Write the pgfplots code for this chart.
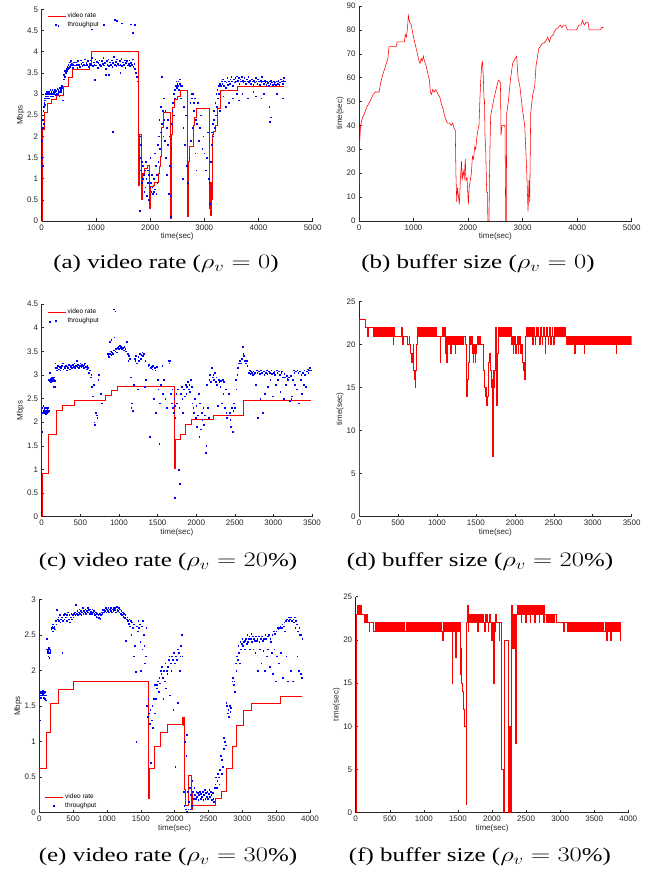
\documentclass[border=0pt]{standalone}
\usepackage{pgfplots}
\pgfplotsset{compat=1.18}
\usepackage{fontspec}
\setmainfont{Liberation Serif}
\newfontfamily\hel{Liberation Sans}
\definecolor{axgray}{RGB}{38,38,38}
\pgfplotsset{
  every axis/.append style={
    scale only axis,
    anchor=south west,
    axis x line*=bottom, axis y line*=left,
    tick align=inside,
    major tick length=2.5pt,
    every tick/.style={axgray, line width=0.5pt},
    axis line style={axgray, line width=0.5pt},
    tick label style={font=\hel\fontsize{8}{9}\selectfont, text=axgray},
    label style={font=\hel\fontsize{8}{9}\selectfont, text=axgray},
    /pgf/number format/assume math mode=true,
    /pgf/number format/1000 sep={},
    xlabel={time(sec)},
    xlabel style={yshift=4pt},
    ylabel style={yshift=-4pt},
    legend cell align=left,
  },
  rate/.style={red, line width=1pt, const plot, no marks,
    legend image code/.code={\draw[red, line width=0.8pt] (0pt,0pt) -- (18pt,0pt);}},
  buf/.style={red, line width=0.55pt, no marks},
  thr/.style={only marks, mark=square*, mark size=0.36pt, blue, mark options={draw=none, fill=blue},
    legend image code/.code={\fill[blue] (7.6pt,-0.4pt) rectangle (8.4pt,0.4pt);}},
  leg/.style={legend style={draw=none, fill=none, font=\hel\fontsize{6.5}{7}\selectfont, inner sep=0pt, row sep=-0.5pt,
    nodes={inner sep=1.5pt}}},
}
\begin{document}
\begin{tikzpicture}
\path[use as bounding box] (0,0) rectangle (654pt,871pt);
% ---------------- (a)
\begin{axis}[at={(41.7pt,650pt)}, width=271pt, height=211.7pt,
  xmin=0, xmax=5000, ymin=0, ymax=5,
  xtick={0,1000,...,5000}, ytick={0,0.5,...,5},
  ylabel={Mbps}, leg,
  legend style={at={(0.02,0.99)}, anchor=north west}]
\addplot[rate] coordinates {(0,0)(10,1.6)(20,2.15)(50,2.57)(100,2.77)(190,2.87)(270,2.97)(400,3.18)(500,3.38)(560,3.58)(880,3.68)(910,4.0)(1795,0.85)(1800,2.05)(1845,0.5)(1852,1.13)(1893,1.23)(1943,1.32)(1998,0.3)(2011,0.81)(2059,0.85)(2076,0.91)(2164,1.13)(2180,1.28)(2200,1.52)(2215,2.2)(2244,2.57)(2380,0.07)(2390,0.7)(2400,2.05)(2417,2.68)(2459,2.88)(2502,2.95)(2552,3.08)(2694,0.1)(2705,1.4)(2736,1.75)(2800,2.25)(2822,2.45)(2850,2.66)(3105,0.3)(3112,0.9)(3120,0.12)(3128,0.9)(3136,0.5)(3143,2.05)(3170,2.12)(3200,2.25)(3240,2.65)(3303,3.08)(3609,3.18)(4476,3.18)};
\addlegendentry{video rate}
\addplot[thr] coordinates {
(5,1.5)(10,1.9)(15,1.3)(20,2.2)(25,2.4)(30,2.6)(35,2.3)(40,2.7)(45,2.8)(50,2.75)(55,2.9)(60,2.85)(70,2.95)(80,3.0)(90,2.9)(95,3.05)
(105,2.95)(115,3.0)(125,3.05)(135,2.9)(145,3.0)(155,3.1)(165,2.95)(175,3.05)(185,3.0)(195,3.1)(205,2.95)(215,3.05)(225,3.0)(235,3.1)(245,3.05)(255,2.98)(265,3.08)(275,3.02)(285,3.12)(295,3.0)(305,3.1)(315,3.05)(325,2.95)(335,3.15)(345,3.1)(355,3.05)(365,3.15)(375,3.2)(385,2.85)(395,3.0)
(400,3.35)(410,3.45)(420,3.4)(430,3.55)(440,3.5)(450,3.6)(460,3.55)(470,3.65)(480,3.6)(490,3.7)(500,3.62)(510,3.75)(520,3.65)(530,3.7)(540,3.78)(550,3.68)(560,3.72)(570,3.62)(580,3.7)(590,3.75)
(610,3.68)(625,3.75)(640,3.7)(655,3.62)(670,3.78)(685,3.7)(700,3.65)(715,3.8)(730,3.72)(745,3.66)(760,3.75)(775,3.7)(790,3.82)(805,3.68)(820,3.74)(835,3.7)(850,3.78)(865,3.64)(880,3.72)(895,3.8)(910,3.7)(925,3.85)(940,3.66)(955,3.75)(970,3.7)(985,3.82)(1000,3.68)(1015,3.76)(1030,3.62)(1045,3.74)(1060,3.8)(1075,3.7)(1090,3.66)(1105,3.78)(1120,3.72)(1135,3.85)(1150,3.68)(1165,3.74)(1180,3.6)(1195,3.78)(1210,3.7)(1225,3.82)(1240,3.66)(1255,3.75)(1270,3.7)(1285,3.8)(1300,3.64)(1315,3.74)(1330,3.88)(1345,3.7)(1360,3.76)(1375,3.66)(1390,3.82)(1405,3.72)(1420,3.68)(1435,3.78)(1450,3.7)(1465,3.84)(1480,3.66)(1495,3.75)(1510,3.7)(1525,3.8)(1540,3.62)(1555,3.74)(1570,3.78)(1585,3.68)(1600,3.72)(1615,3.8)(1630,3.66)(1645,3.74)(1660,3.7)(1675,3.82)(1690,3.64)(1705,3.72)(1720,3.6)(1735,3.5)(1750,3.4)(1760,3.3)
(307,4.61)(922,4.53)(1138,4.63)(1353,4.76)(1384,4.73)(1476,4.67)(1642,4.65)(1673,4.45)(1722,4.63)(972,3.33)(1230,3.45)(1310,2.11)(1180,3.45)(1450,3.5)(1802,0.24)
(1810,2.0)(1815,1.5)(1825,1.8)(1830,1.2)(1840,0.9)(1850,1.4)(1860,1.0)(1870,1.3)(1880,1.1)(1890,0.7)(1900,1.2)(1910,0.8)(1920,1.4)(1930,1.0)(1940,0.6)(1950,0.9)(1960,1.2)(1970,0.5)(1980,1.1)(1990,0.8)(2000,1.5)(2010,0.9)(2020,0.7)(2030,1.1)(2040,0.8)(2050,0.65)(2060,1.0)(2070,0.7)(2080,1.6)(2090,0.75)(2100,1.3)(2110,0.65)(2120,1.1)(2130,0.9)(2140,1.8)(2150,1.4)(2160,2.0)(2170,2.4)(2180,1.7)(2190,2.1)(2200,2.7)(2210,2.3)(2220,3.4)(2230,2.6)(2240,2.0)(2250,2.9)(2260,2.4)(2270,1.9)(2280,2.6)(2290,1.5)(2300,2.2)(2310,1.1)(2320,2.4)(2330,1.8)(2340,0.65)(2350,2.0)(2360,1.3)(2370,0.6)(2380,0.1)(2390,1.7)(2400,2.3)(2410,2.6)(2420,2.8)(2430,3.0)(2440,2.5)(2450,3.1)(2460,2.9)(2470,3.2)(2480,3.3)(2490,3.15)(2500,3.25)(2510,3.2)(2520,3.3)(2530,3.1)(2540,3.25)(2550,3.35)(2560,3.2)(2570,2.9)(2580,3.2)(2600,1.0)(2610,2.2)(2620,2.7)(2640,1.8)(2660,2.5)(2680,1.3)(2700,0.9)(2720,1.5)(2740,2.8)(2750,1.9)(2760,3.0)(2770,2.9)(2780,2.2)(2790,3.0)(2800,2.8)(2810,2.6)(2820,2.9)(2830,1.6)(2840,2.4)(2850,1.2)(2860,2.3)(2880,2.8)(2900,1.9)(2920,2.2)(2940,2.5)(2960,1.7)(2980,2.0)(3000,1.6)(3020,1.2)(3040,1.5)(3060,2.1)(3080,1.0)(3090,0.9)(3100,0.4)(3110,0.8)(3120,1.4)(3130,1.8)(3140,2.1)(3150,2.3)(3160,2.0)(3170,2.4)(3180,2.6)(3190,2.2)(3200,2.8)(3210,2.5)(3220,3.0)(3230,2.7)(3240,3.1)(3250,2.9)(3260,3.2)(3270,3.0)(3280,3.25)(3290,2.6)
(3300,3.2)(3315,3.3)(3330,3.25)(3345,3.35)(3360,3.2)(3375,3.3)(3390,3.15)(3405,3.28)(3420,3.38)(3435,3.22)(3450,3.3)(3465,3.25)(3480,3.35)(3495,3.4)(3510,3.3)(3525,3.2)(3540,3.35)(3555,3.28)(3570,3.38)(3585,3.3)(3600,3.42)(3615,3.32)(3630,3.38)(3645,3.25)(3660,3.35)(3675,3.3)(3690,3.4)(3705,3.32)(3720,3.28)(3735,3.38)(3750,3.3)(3765,3.25)(3780,3.35)(3795,3.3)(3810,3.4)(3825,3.28)(3840,3.32)(3855,3.25)(3870,3.35)(3885,3.3)(3900,3.22)(3915,3.32)(3930,3.28)(3945,3.38)(3960,3.3)(3975,3.25)(3990,3.35)(4005,3.3)(4020,3.22)(4035,3.32)(4050,3.28)(4065,3.4)(4080,3.3)(4095,3.25)(4110,3.32)(4125,3.28)(4140,3.22)(4155,3.3)(4170,3.26)(4185,3.2)(4200,3.3)(4215,3.25)(4230,3.32)(4245,3.28)(4260,3.22)(4275,3.3)(4290,3.25)(4305,3.28)(4320,3.22)(4335,3.3)(4350,3.25)(4365,3.32)(4380,3.22)(4395,3.28)(4410,3.35)(4425,3.3)(4440,3.25)(4455,3.32)(4470,3.38)(4480,3.3)
(3400,2.7)(3520,2.9)(3700,3.0)(3800,2.9)(3900,3.05)(3950,2.95)(4050,2.9)(4200,2.7)(4220,2.45)(4210,2.35)(4450,2.9)(4330,3.0)(3350,2.95)(3450,2.8)(3600,3.0)(3630,2.85)(4100,3.0)};
\addlegendentry{throughput}
\end{axis}
% ---------------- (b)
\begin{axis}[at={(359pt,650pt)}, width=272.7pt, height=215pt,
  xmin=0, xmax=5000, ymin=0, ymax=90,
  xtick={0,1000,...,5000}, ytick={0,10,...,90},
  ylabel={time(sec)}]
\addplot[buf] coordinates {(0,0)(5,20)(12,33)(30,40)(60,43)(100,45)(150,48)(200,50)(260,53)(300,54)(370,54)(390,57)(420,60)(460,63)(500,66)(530,68)(550,73)(680,73)(700,75)(830,75)(850,78)(870,77)(890,81)(905,86)(930,83)(960,82)(990,78)(1020,75)(1060,71)(1100,67)(1120,66)(1140,68)(1160,67)(1180,69)(1200,67)(1230,65)(1260,62)(1290,59)(1310,54)(1330,53)(1350,55)(1380,54)(1410,55)(1430,54)(1450,53)(1480,52)(1510,49)(1540,47)(1570,44)(1600,42)(1620,41)(1660,41)(1690,40)(1720,41)(1740,39)(1765,38)(1778,19)(1792,8)(1805,14)(1820,11)(1840,7)(1860,18)(1880,25)(1890,17)(1910,21)(1930,18)(1950,26)(1960,17)(1980,18)(1990,14)(2005,7)(2020,14)(2040,17)(2060,20)(2080,27)(2100,26)(2120,31)(2140,30)(2160,35)(2180,38)(2200,40)(2215,50)(2230,58)(2250,65)(2262,67)(2280,60)(2292,51)(2300,51)(2310,36)(2323,30)(2341,12)(2358,12)(2362,0)(2384,0)(2392,18)(2405,35)(2414,44)(2463,50)(2512,55)(2555,59)(2592,58)(2598,50)(2604,36)(2622,40)(2677,40)(2690,0)(2700,0)(2708,45)(2738,50)(2781,60)(2818,66)(2861,68)(2891,69)(2916,60)(2952,56)(2995,47)(3038,40)(3062,28)(3081,17)(3099,4)(3117,17)(3130,8)(3148,45)(3185,53)(3220,56)(3246,65)(3294,72)(3350,74)(3420,75)(3460,77)(3490,75)(3520,77)(3560,78)(3600,80)(3650,81)(3690,82)(3720,81)(3750,82)(3790,82)(3820,80)(3900,80)(3990,80)(4030,82)(4070,82)(4100,84)(4130,82)(4160,83)(4200,83)(4220,80)(4300,80)(4420,80)(4450,81)(4480,81)};
\end{axis}
% ---------------- (c)
\begin{axis}[at={(41.7pt,354.3pt)}, width=270.3pt, height=212.7pt,
  xmin=0, xmax=3500, ymin=0, ymax=4.5,
  xtick={0,500,...,3500}, ytick={0,0.5,...,4.5},
  ylabel={Mbps}, leg,
  legend style={at={(0.02,0.985)}, anchor=north west}]
\addplot[rate] coordinates {(0,0)(5,0.5)(10,0.92)(90,1.74)(190,2.25)(270,2.35)(430,2.46)(830,2.56)(900,2.66)(980,2.76)(1720,1.02)(1730,1.64)(1800,1.74)(1860,1.95)(1940,2.05)(2220,2.15)(2610,2.46)(3490,2.46)};
\addlegendentry{video rate}
\addplot[thr] coordinates {
(5,1.8)(8,2.3)(12,2.2)(18,2.35)(22,2.25)(28,2.2)(32,2.28)(38,2.22)(42,2.3)(48,2.18)(52,2.25)(58,2.22)(62,2.3)(68,2.2)(72,2.26)(78,2.22)(82,2.3)(88,2.24)
(95,2.9)(100,3.05)(105,2.88)(112,2.92)(118,2.85)(125,2.9)(132,2.95)(138,2.88)(145,2.92)(150,2.75)(155,2.9)(160,2.95)(165,2.88)(170,2.75)(175,3.25)(180,3.15)(100,4.12)
(190,3.1)(200,3.15)(210,3.2)(220,3.12)(230,3.18)(240,3.1)(250,3.15)(260,3.2)(270,3.25)(280,3.12)(290,3.18)(300,3.15)(310,3.2)(320,3.1)(330,3.18)(340,3.15)(350,3.22)(360,3.12)(370,3.18)(380,3.2)(390,3.15)(400,3.22)(410,3.18)(420,3.25)(430,3.15)(440,3.2)(450,3.3)(460,3.18)(470,3.22)(480,3.15)(490,3.2)(500,3.25)(510,3.18)(520,3.22)(530,3.2)(540,3.15)(550,3.22)(560,3.25)(570,3.18)(580,3.12)(590,3.2)(600,3.15)(610,3.05)(620,3.1)(630,2.95)(640,3.0)(650,2.75)(660,2.55)(670,2.8)(680,2.0)(690,1.95)(700,2.2)(710,2.15)(720,2.1)(730,2.9)(740,3.0)(760,2.6)(780,2.4)
(850,3.45)(860,3.4)(870,3.38)(880,3.45)(890,3.5)(900,3.42)(910,3.48)(920,3.45)(930,3.52)(940,3.8)(950,3.5)(960,3.55)(970,3.48)(980,3.58)(990,3.6)(1000,3.55)(1010,3.62)(1020,3.58)(1030,3.6)(1040,3.55)(1050,3.58)(1060,3.52)(1070,3.6)(1080,3.55)(1090,3.5)(1100,3.7)(930,4.39)(950,4.35)(880,3.7)(900,3.75)
(1110,3.45)(1120,3.3)(1130,3.4)(1140,3.35)(1150,2.95)(1160,2.3)(1170,2.4)(1180,2.25)(1190,2.8)(1200,3.35)(1210,3.3)(1220,3.4)(1230,3.25)(1240,2.7)(1250,3.38)(1260,3.3)(1270,3.45)(1280,3.35)(1290,3.42)(1300,3.48)(1310,3.4)(1320,3.45)(1330,2.75)(1340,3.3)(1350,2.9)
(1380,3.2)(1390,3.22)(1400,1.7)(1410,3.15)(1420,3.18)(1430,3.12)(1440,3.2)(1450,2.5)(1460,3.15)(1470,3.1)(1480,2.2)(1490,3.18)(1500,2.9)(1510,2.7)(1520,1.55)(1530,2.4)(1540,2.8)(1560,3.2)(1570,2.6)(1580,2.9)(1600,2.5)(1620,2.3)(1640,3.3)(1650,3.25)(1660,3.3)(1670,2.6)(1680,2.4)(1690,2.7)(1700,2.3)(1710,2.2)(1715,2.5)(1720,0.4)(1725,2.35)(1730,2.1)(1740,2.6)(1750,2.4)(1760,2.7)(1770,1.0)(1780,2.3)(1790,0.7)
(1800,2.6)(1810,2.75)(1820,2.5)(1830,2.2)(1840,2.7)(1850,2.55)(1860,2.8)(1870,2.6)(1880,2.75)(1890,2.85)(1900,2.7)(1910,2.8)(1920,2.65)(1930,2.9)(1940,2.75)(1950,2.4)(1960,2.3)(1970,2.2)(1980,2.5)(1990,2.1)(2000,2.35)(2010,1.9)(2020,2.15)(2030,2.6)(2040,1.7)(2050,2.4)(2060,1.85)(2070,2.2)(2080,2.05)(2090,2.3)(2100,1.95)(2110,2.15)(2120,1.35)(2130,1.5)(2140,2.8)(2150,2.3)(2160,2.1)
(2170,2.9)(2180,3.0)(2190,2.85)(2200,3.15)(2210,2.95)(2220,3.0)(2230,2.9)(2240,3.05)(2250,2.85)(2260,2.95)(2270,2.8)(2280,2.35)(2290,2.9)(2300,2.85)(2310,2.75)(2320,2.88)(2330,2.4)(2340,2.9)(2350,2.6)(2360,2.85)(2370,2.3)(2380,2.7)(2390,2.2)(2400,2.1)(2410,2.15)(2420,2.6)(2430,2.2)(2440,2.05)(2450,1.9)(2460,2.3)(2470,1.8)(2480,2.25)(2490,2.4)(2500,2.3)(2510,2.9)(2520,2.7)(2530,3.0)(2540,3.15)(2550,3.25)(2560,3.3)(2570,3.3)(2580,3.25)(2590,3.35)(2600,3.6)(2610,3.45)(2620,3.4)(2630,3.3)(2640,3.25)(2650,3.3)(2660,3.2)
(2680,3.05)(2690,3.1)(2700,3.02)(2710,3.08)(2720,3.05)(2730,3.0)(2740,3.08)(2750,3.02)(2760,3.05)(2770,2.8)(2780,3.1)(2790,3.05)(2800,2.1)(2810,3.08)(2820,3.02)(2830,2.5)(2840,3.1)(2850,3.05)(2860,2.2)(2870,3.08)(2880,3.0)(2890,2.6)(2900,3.05)(2910,3.1)(2920,3.02)(2930,2.75)(2940,3.08)(2950,3.05)(2960,2.9)(2970,3.1)(2980,3.02)(2990,2.55)(3000,3.05)(3010,3.08)(3020,3.0)(3030,2.8)(3040,3.1)(3050,3.05)(3060,2.9)(3070,3.08)(3080,3.0)(3090,2.65)(3100,3.05)(3110,3.08)(3120,2.95)(3130,2.5)(3140,3.02)(3150,2.95)(3160,2.8)(3170,2.98)(3180,2.92)(3190,2.9)(3200,2.95)(3210,2.45)(3220,2.98)(3230,2.5)(3240,2.55)(3250,2.9)(3260,3.1)(3270,3.05)(3280,2.8)(3290,3.08)(3300,2.7)(3310,3.1)(3320,3.05)(3330,2.4)(3340,3.08)(3350,2.9)(3360,3.0)(3370,2.6)(3380,3.05)(3390,2.8)(3400,3.1)(3410,3.0)(3420,2.75)(3430,3.08)(3440,3.12)(3450,3.05)(3460,3.1)(3470,3.15)(3480,3.1)};
\addlegendentry{throughput}
\end{axis}
% ---------------- (d)
\begin{axis}[at={(359pt,354.3pt)}, width=272.7pt, height=215pt,
  xmin=0, xmax=3500, ymin=0, ymax=25,
  xtick={0,500,...,3500}, ytick={0,5,...,25},
  ylabel={time(sec)}]
\addplot[buf, const plot] coordinates {(0,0)(3,22)(8,23)(80,22)(106,21)(114,22)(180,21)(188,22)(196,21)(204,22)(212,21)(220,22)(228,21)(236,22)(244,21)(252,22)(260,21)(268,22)(276,21)(284,22)(292,21)(300,22)(308,21)(316,22)(324,21)(332,22)(340,21)(348,22)(356,21)(364,22)(372,21)(380,22)(388,21)(396,22)(404,21)(412,22)(420,21)(428,22)(436,20)(442,22)(450,21)(545,22)(550,21)(558,20)(563,21)(625,20)(640,21)(645,20)(660,19)(670,18)(680,19)(688,18)(696,20)(702,17)(712,16)(722,15)(728,17)(735,20)(742,21)(750,22)(758,21)(766,22)(774,21)(782,22)(790,21)(798,22)(806,21)(814,22)(822,21)(830,22)(838,21)(846,22)(854,21)(862,22)(870,21)(878,22)(886,21)(894,22)(902,21)(910,22)(918,21)(926,22)(934,21)(942,22)(950,21)(958,22)(966,21)(974,22)(982,21)(990,22)(998,21)(1040,18)(1045,21)(1065,22)(1075,21)(1085,22)(1095,21)(1105,22)(1112,19)(1118,21)(1125,18)(1130,21)(1140,20)(1148,21)(1156,20)(1164,21)(1172,19)(1178,21)(1186,20)(1194,21)(1202,20)(1210,21)(1218,20)(1226,21)(1234,19)(1240,21)(1248,20)(1256,21)(1264,20)(1272,21)(1280,20)(1288,21)(1296,20)(1304,21)(1312,20)(1320,21)(1330,20)(1340,21)(1360,20)(1375,15)(1382,14)(1390,16)(1400,18)(1410,20)(1420,21)(1432,20)(1442,21)(1450,19)(1458,20)(1465,18)(1472,19)(1480,20)(1488,18)(1495,19)(1505,20)(1515,21)(1530,20)(1545,21)(1560,20)(1580,20)(1595,17)(1605,15)(1615,14)(1625,15)(1635,13)(1645,14)(1655,16)(1665,18)(1675,19)(1685,17)(1695,15)(1705,16)(1715,7)(1722,17)(1730,15)(1740,17)(1748,22)(1758,20)(1766,13)(1774,19)(1782,22)(1790,21)(1798,22)(1806,21)(1814,22)(1822,21)(1830,22)(1838,21)(1846,22)(1854,21)(1862,22)(1870,21)(1878,22)(1886,21)(1894,22)(1902,21)(1910,22)(1918,21)(1926,22)(1934,21)(1942,22)(1950,21)(1960,20)(1968,21)(1978,19)(1984,21)(1994,20)(2002,21)(2010,19)(2018,20)(2028,21)(2038,19)(2046,20)(2056,21)(2066,20)(2076,19)(2086,20)(2096,18)(2104,17)(2112,18)(2122,16)(2130,19)(2138,21)(2146,22)(2154,21)(2162,22)(2170,21)(2178,22)(2186,21)(2194,22)(2202,21)(2210,22)(2218,21)(2226,20)(2232,21)(2240,22)(2250,21)(2260,20)(2266,21)(2276,22)(2286,21)(2296,22)(2306,21)(2316,20)(2322,21)(2332,22)(2342,21)(2352,20)(2358,21)(2368,22)(2378,21)(2388,19)(2394,21)(2404,22)(2414,21)(2424,20)(2430,21)(2440,22)(2450,21)(2460,20)(2466,21)(2476,22)(2486,21)(2496,20)(2502,21)(2512,22)(2520,21)(2528,22)(2536,21)(2544,22)(2552,21)(2560,22)(2568,21)(2576,22)(2584,21)(2592,22)(2600,21)(2608,22)(2616,21)(2624,22)(2632,21)(2640,22)(2650,21)(2665,20)(2672,21)(2690,20)(2696,21)(2715,20)(2722,21)(2740,20)(2746,21)(2765,19)(2772,21)(2790,20)(2796,21)(2810,20)(2816,21)(2830,20)(2836,21)(2850,20)(2856,21)(2870,20)(2876,21)(2888,19)(2894,21)(2905,20)(2911,21)(2922,20)(2928,21)(2940,20)(2946,21)(2958,20)(2964,21)(2976,20)(2982,21)(2994,20)(3000,21)(3012,20)(3018,21)(3030,20)(3036,21)(3048,20)(3054,21)(3066,20)(3072,21)(3084,20)(3090,21)(3102,20)(3108,21)(3120,20)(3126,21)(3138,20)(3144,21)(3156,20)(3162,21)(3174,20)(3180,21)(3192,20)(3198,21)(3210,20)(3216,21)(3228,20)(3234,21)(3246,20)(3252,21)(3264,20)(3270,21)(3282,20)(3288,21)(3298,19)(3304,21)(3316,20)(3322,21)(3334,20)(3340,21)(3352,20)(3358,21)(3370,20)(3376,21)(3388,20)(3394,21)(3406,20)(3412,21)(3424,20)(3430,21)(3442,20)(3448,21)(3460,20)(3466,21)(3478,20)(3484,21)(3490,20)};
\end{axis}
% ---------------- (e)
\begin{axis}[at={(39.3pt,58.3pt)}, width=270.7pt, height=213.4pt,
  xmin=0, xmax=4000, ymin=0, ymax=3,
  xtick={0,500,...,4000}, ytick={0,0.5,...,3},
  ylabel={Mbps}, leg,
  legend style={at={(0.02,0.01)}, anchor=south west}]
\addplot[rate] coordinates {(0,0)(8,0.62)(100,1.125)(170,1.53)(280,1.73)(510,1.84)(1620,0.2)(1628,0.62)(1700,0.93)(1790,1.13)(1890,1.24)(2120,1.34)(2128,1.23)(2134,1.34)(2145,0.32)(2160,0.1)(2200,0.52)(2250,0.05)(2258,0.3)(2266,0.1)(2600,0.2)(2690,0.3)(2760,0.62)(2860,0.93)(2920,1.23)(3020,1.44)(3130,1.54)(3570,1.64)(3880,1.64)};
\addlegendentry{video rate}
\addplot[thr] coordinates {
(5,1.3)(10,1.65)(15,1.7)(20,1.62)(25,1.68)(30,1.7)(35,1.65)(40,1.68)(45,1.72)(50,1.66)(55,1.7)(60,1.62)(65,1.68)(70,1.7)(75,1.65)(80,1.6)(85,1.7)(90,1.65)(95,1.58)
(105,2.3)(110,2.45)(115,2.25)(120,2.28)(125,2.3)(130,2.2)(135,2.32)(140,2.25)(145,2.18)(150,2.3)(155,2.25)(160,2.28)
(175,2.58)(185,2.6)(190,2.62)(195,2.55)(200,2.65)(210,2.6)(220,2.62)(230,2.58)(240,2.7)(250,2.65)(260,2.85)(270,2.72)(280,2.75)(290,2.7)(300,2.78)(310,2.68)(320,2.72)(330,2.75)(340,2.25)(350,2.7)(360,2.78)(370,2.72)(380,2.8)(390,2.75)(400,2.78)(410,2.7)(420,2.82)(430,2.72)(440,2.78)(450,2.68)(460,2.75)(470,2.8)(480,2.72)(490,2.78)(500,2.75)
(510,2.8)(520,2.82)(530,2.78)(540,2.92)(550,2.8)(560,2.84)(570,2.78)(580,2.82)(590,2.86)(600,2.8)(610,2.84)(620,2.78)(630,2.82)(640,2.88)(650,2.8)(660,2.84)(670,2.82)(680,2.86)(690,2.8)(700,2.84)(710,2.88)(720,2.82)(730,2.85)(740,2.8)(750,2.86)(760,2.83)(770,2.8)(780,2.86)(790,2.82)(800,2.84)(810,2.8)(820,2.78)(830,2.82)(840,2.76)(850,2.8)(860,2.75)(870,2.78)(880,2.74)(890,2.8)(900,2.73)(910,2.78)(920,2.82)(930,2.8)(940,2.85)(950,2.82)(960,2.86)(970,2.84)(980,2.88)(990,2.82)(1000,2.86)(1010,2.84)(1020,2.88)(1030,2.82)(1040,2.86)(1050,2.84)(1060,2.88)(1070,2.82)(1080,2.86)(1090,2.84)(1100,2.88)(1110,2.85)(1120,2.88)(1130,2.82)(1140,2.9)(1150,2.86)(1160,2.84)(1170,2.88)(1180,2.82)(1190,2.86)(1200,2.8)(1210,2.84)(1220,2.78)(1230,2.82)(1240,2.76)(1250,2.8)(1260,2.74)(1270,2.78)(1280,2.42)(1290,2.72)(1300,2.75)(1310,2.7)(1320,2.66)(1330,2.72)(1340,2.62)(1350,2.7)(1360,2.5)(1370,2.68)(1380,2.6)(1390,2.65)(1400,2.2)(1410,2.35)(1420,1.98)(1430,1.0)(1440,2.62)(1450,2.55)(1460,2.7)(1470,2.6)(1480,2.65)(1490,2.4)(1500,2.0)(1510,2.62)(1520,2.3)(1530,2.7)(1540,2.5)(1550,2.35)(1560,2.1)(1570,2.2)(1580,2.6)(1590,1.5)(1600,1.35)
(1610,1.6)(1620,1.4)(1630,1.25)(1640,1.45)(1650,0.7)(1660,1.3)(1670,1.5)(1680,1.2)(1690,1.6)(1700,1.4)(1710,1.8)(1720,1.6)(1730,1.8)(1740,1.75)(1750,1.85)(1760,1.7)(1770,1.9)(1780,1.82)(1790,2.0)(1800,1.95)(1810,2.05)(1820,1.9)(1830,1.6)(1840,2.0)(1850,1.85)(1860,2.1)(1870,1.75)(1880,2.0)(1890,1.95)(1900,2.05)(1910,2.15)(1920,2.2)(1930,1.65)(1940,2.1)(1950,2.0)(1960,2.2)(1970,2.15)(1980,1.45)(1990,2.25)(2000,2.1)(2010,0.65)(2020,2.2)(2030,2.15)(2040,2.3)(2050,1.55)(2060,2.25)(2070,2.0)(2080,2.2)(2090,2.35)(2100,2.5)(2110,2.2)
(2130,0.3)(2140,0.1)(2150,1.0)(2160,0.05)(2170,0.8)(2175,1.1)(2180,0.02)(2190,0.3)(2200,0.05)(2210,0.15)(2220,0.35)(2230,0.05)(2240,0.25)(2250,0.1)(2260,0.45)(2270,0.3)(2280,0.2)(2290,0.35)(2300,0.25)(2310,0.2)(2320,0.3)(2330,0.22)(2340,0.28)(2350,0.18)(2360,0.25)(2370,0.3)(2380,0.2)(2390,0.27)(2400,0.22)(2410,0.3)(2420,0.18)(2430,0.25)(2440,0.32)(2450,0.2)(2460,0.28)(2470,0.22)(2480,0.3)(2490,0.2)(2500,0.27)(2510,0.32)(2520,0.22)(2530,0.3)(2540,0.25)(2550,0.18)(2560,0.28)(2570,0.2)(2580,0.15)(2590,0.35)
(2600,0.4)(2610,0.5)(2620,0.35)(2630,0.45)(2640,0.55)(2650,0.5)(2660,0.4)(2670,0.6)(2680,0.8)(2690,0.55)(2700,0.75)(2710,0.65)(2720,1.05)(2730,0.9)(2740,1.0)(2750,0.95)(2760,1.55)(2770,1.5)(2780,1.4)(2790,1.45)(2800,1.35)(2810,1.5)(2820,1.42)(2830,1.48)(2850,1.85)(2860,1.9)(2870,1.8)(2880,1.85)(2890,1.7)(2900,2.1)(2910,2.0)(2920,2.2)(2930,2.15)(2940,2.35)(2950,2.25)(2960,2.1)(2970,2.4)(2980,2.3)(2990,2.38)(3000,2.45)(3010,2.35)(3020,2.4)(3030,2.3)(3040,2.42)(3050,2.45)(3060,2.38)(3070,2.5)(3080,2.4)(3090,2.45)(3100,2.48)(3110,2.3)(3120,2.45)(3130,2.52)(3140,2.4)(3150,2.48)(3160,2.3)(3170,2.45)(3180,2.42)(3190,2.25)(3200,2.48)(3210,2.42)(3220,2.45)(3230,2.0)(3240,2.48)(3250,2.4)(3260,2.3)(3270,2.45)(3280,2.1)(3290,2.48)(3300,2.42)(3310,2.28)(3320,2.45)(3330,2.0)(3340,2.5)(3350,2.45)(3360,2.2)(3370,2.48)(3380,2.3)(3390,2.5)(3400,2.05)(3410,2.45)(3420,2.4)(3430,2.25)(3440,2.5)(3450,1.95)(3460,2.55)(3470,2.3)(3480,2.52)(3490,1.85)(3500,2.55)(3510,2.2)(3520,2.6)(3530,2.58)(3540,2.1)(3550,2.6)(3560,2.62)(3570,2.25)(3580,2.6)(3590,2.65)(3600,1.9)(3610,2.62)(3620,2.68)(3630,2.55)(3640,2.7)(3650,2.2)(3660,2.72)(3670,1.85)(3680,2.75)(3690,2.7)(3700,2.72)(3710,2.0)(3720,2.75)(3730,2.7)(3740,1.85)(3750,2.72)(3760,2.68)(3770,2.75)(3780,2.6)(3790,2.7)(3800,2.65)(3810,2.2)(3820,2.55)(3830,2.0)(3840,2.6)(3850,2.5)(3860,1.95)(3870,2.5)(3880,1.9)(3885,2.45)};
\addlegendentry{throughput}
\end{axis}
% ---------------- (f)
\begin{axis}[at={(355.7pt,58.3pt)}, width=272.6pt, height=216pt,
  xmin=0, xmax=4000, ymin=0, ymax=25,
  xtick={0,500,...,4000}, ytick={0,5,...,25},
  ylabel={time(sec)}]
\addplot[buf, const plot] coordinates {(0,0)(5,23)(30,24)(40,23)(50,24)(60,23)(70,24)(80,23)(125,22)(140,23)(150,22)(160,23)(175,22)(200,21)(205,22)(260,21)(270,21)(285,22)(300,21)(315,22)(330,21)(345,22)(360,21)(375,22)(390,21)(405,22)(420,21)(435,22)(450,21)(465,22)(480,21)(495,22)(510,21)(525,22)(540,21)(555,22)(570,21)(585,22)(600,21)(615,22)(630,21)(645,22)(660,21)(675,22)(690,21)(705,22)(720,21)(735,22)(750,21)(765,22)(780,21)(795,22)(810,21)(825,22)(840,21)(855,22)(870,21)(885,22)(900,21)(915,22)(930,21)(945,22)(960,21)(975,22)(990,21)(1005,22)(1020,21)(1035,22)(1050,21)(1065,22)(1080,21)(1095,22)(1110,21)(1125,22)(1140,21)(1155,22)(1170,21)(1185,22)(1200,21)(1215,22)(1230,21)(1245,22)(1260,21)(1275,20)(1282,22)(1295,21)(1310,22)(1325,21)(1340,22)(1355,21)(1370,22)(1385,21)(1400,22)(1410,15)(1415,19)(1422,22)(1435,21)(1450,22)(1465,18)(1475,22)(1490,21)(1505,22)(1520,21)(1530,22)(1540,16)(1548,19)(1556,15)(1570,14)(1585,12)(1600,10)(1612,10)(1618,1)(1628,22)(1638,24)(1648,21)(1658,23)(1670,22)(1680,23)(1692,22)(1704,23)(1716,22)(1728,23)(1740,22)(1752,23)(1764,22)(1776,23)(1788,21)(1794,23)(1806,22)(1818,23)(1830,22)(1842,23)(1854,22)(1866,23)(1878,22)(1890,21)(1896,23)(1910,22)(1922,23)(1934,22)(1946,21)(1952,22)(1965,23)(1980,22)(1995,20)(2003,22)(2020,15)(2027,22)(2045,21)(2055,23)(2070,22)(2090,22)(2100,20)(2110,22)(2130,22)(2140,5)(2152,5)(2160,0)(2185,20)(2228,20)(2235,0)(2248,10)(2262,10)(2268,0)(2278,24)(2295,19)(2305,23)(2322,19)(2332,23)(2348,8)(2356,23)(2366,24)(2378,23)(2390,24)(2402,23)(2414,24)(2426,22)(2432,24)(2444,23)(2456,24)(2468,23)(2480,24)(2492,22)(2498,24)(2510,23)(2522,24)(2534,23)(2546,24)(2558,22)(2564,24)(2576,23)(2588,24)(2600,23)(2612,24)(2624,22)(2630,24)(2642,23)(2654,24)(2666,23)(2678,24)(2690,22)(2696,24)(2708,23)(2720,24)(2732,23)(2744,24)(2756,22)(2762,24)(2774,23)(2790,22)(2800,23)(2815,22)(2830,23)(2845,22)(2860,23)(2875,22)(2890,23)(2905,22)(2920,23)(2940,22)(3050,21)(3062,22)(3100,21)(3115,22)(3130,21)(3145,22)(3160,21)(3175,22)(3190,21)(3205,22)(3220,21)(3235,22)(3250,21)(3265,22)(3280,21)(3295,22)(3310,21)(3325,22)(3340,21)(3355,22)(3370,21)(3385,22)(3400,21)(3415,22)(3430,21)(3445,22)(3460,21)(3475,22)(3490,21)(3505,22)(3520,21)(3535,22)(3550,21)(3565,22)(3580,21)(3595,22)(3610,21)(3625,22)(3640,21)(3655,22)(3670,21)(3680,20)(3686,22)(3700,21)(3715,22)(3730,21)(3740,20)(3746,22)(3760,21)(3775,22)(3790,21)(3805,22)(3820,21)(3835,22)(3850,21)(3865,22)(3878,20)(3885,20)};
\end{axis}
% ---------------- captions
\begin{scope}[every node/.style={font=\fontsize{19.5}{22}\selectfont, inner sep=0pt}]
\node at (166pt,607pt) {\scalebox{1.28}[1]{(a) video rate ($\rho_v = 0$)}};
\node at (478pt,607pt) {\scalebox{1.28}[1]{(b) buffer size ($\rho_v = 0$)}};
\node at (168pt,309pt) {\scalebox{1.28}[1]{(c) video rate ($\rho_v = 20\%$)}};
\node at (480pt,309pt) {\scalebox{1.28}[1]{(d) buffer size ($\rho_v = 20\%$)}};
\node at (168pt,14pt) {\scalebox{1.28}[1]{(e) video rate ($\rho_v = 30\%$)}};
\node at (480pt,14pt) {\scalebox{1.28}[1]{(f) buffer size ($\rho_v = 30\%$)}};
\end{scope}
\end{tikzpicture}
\end{document}
